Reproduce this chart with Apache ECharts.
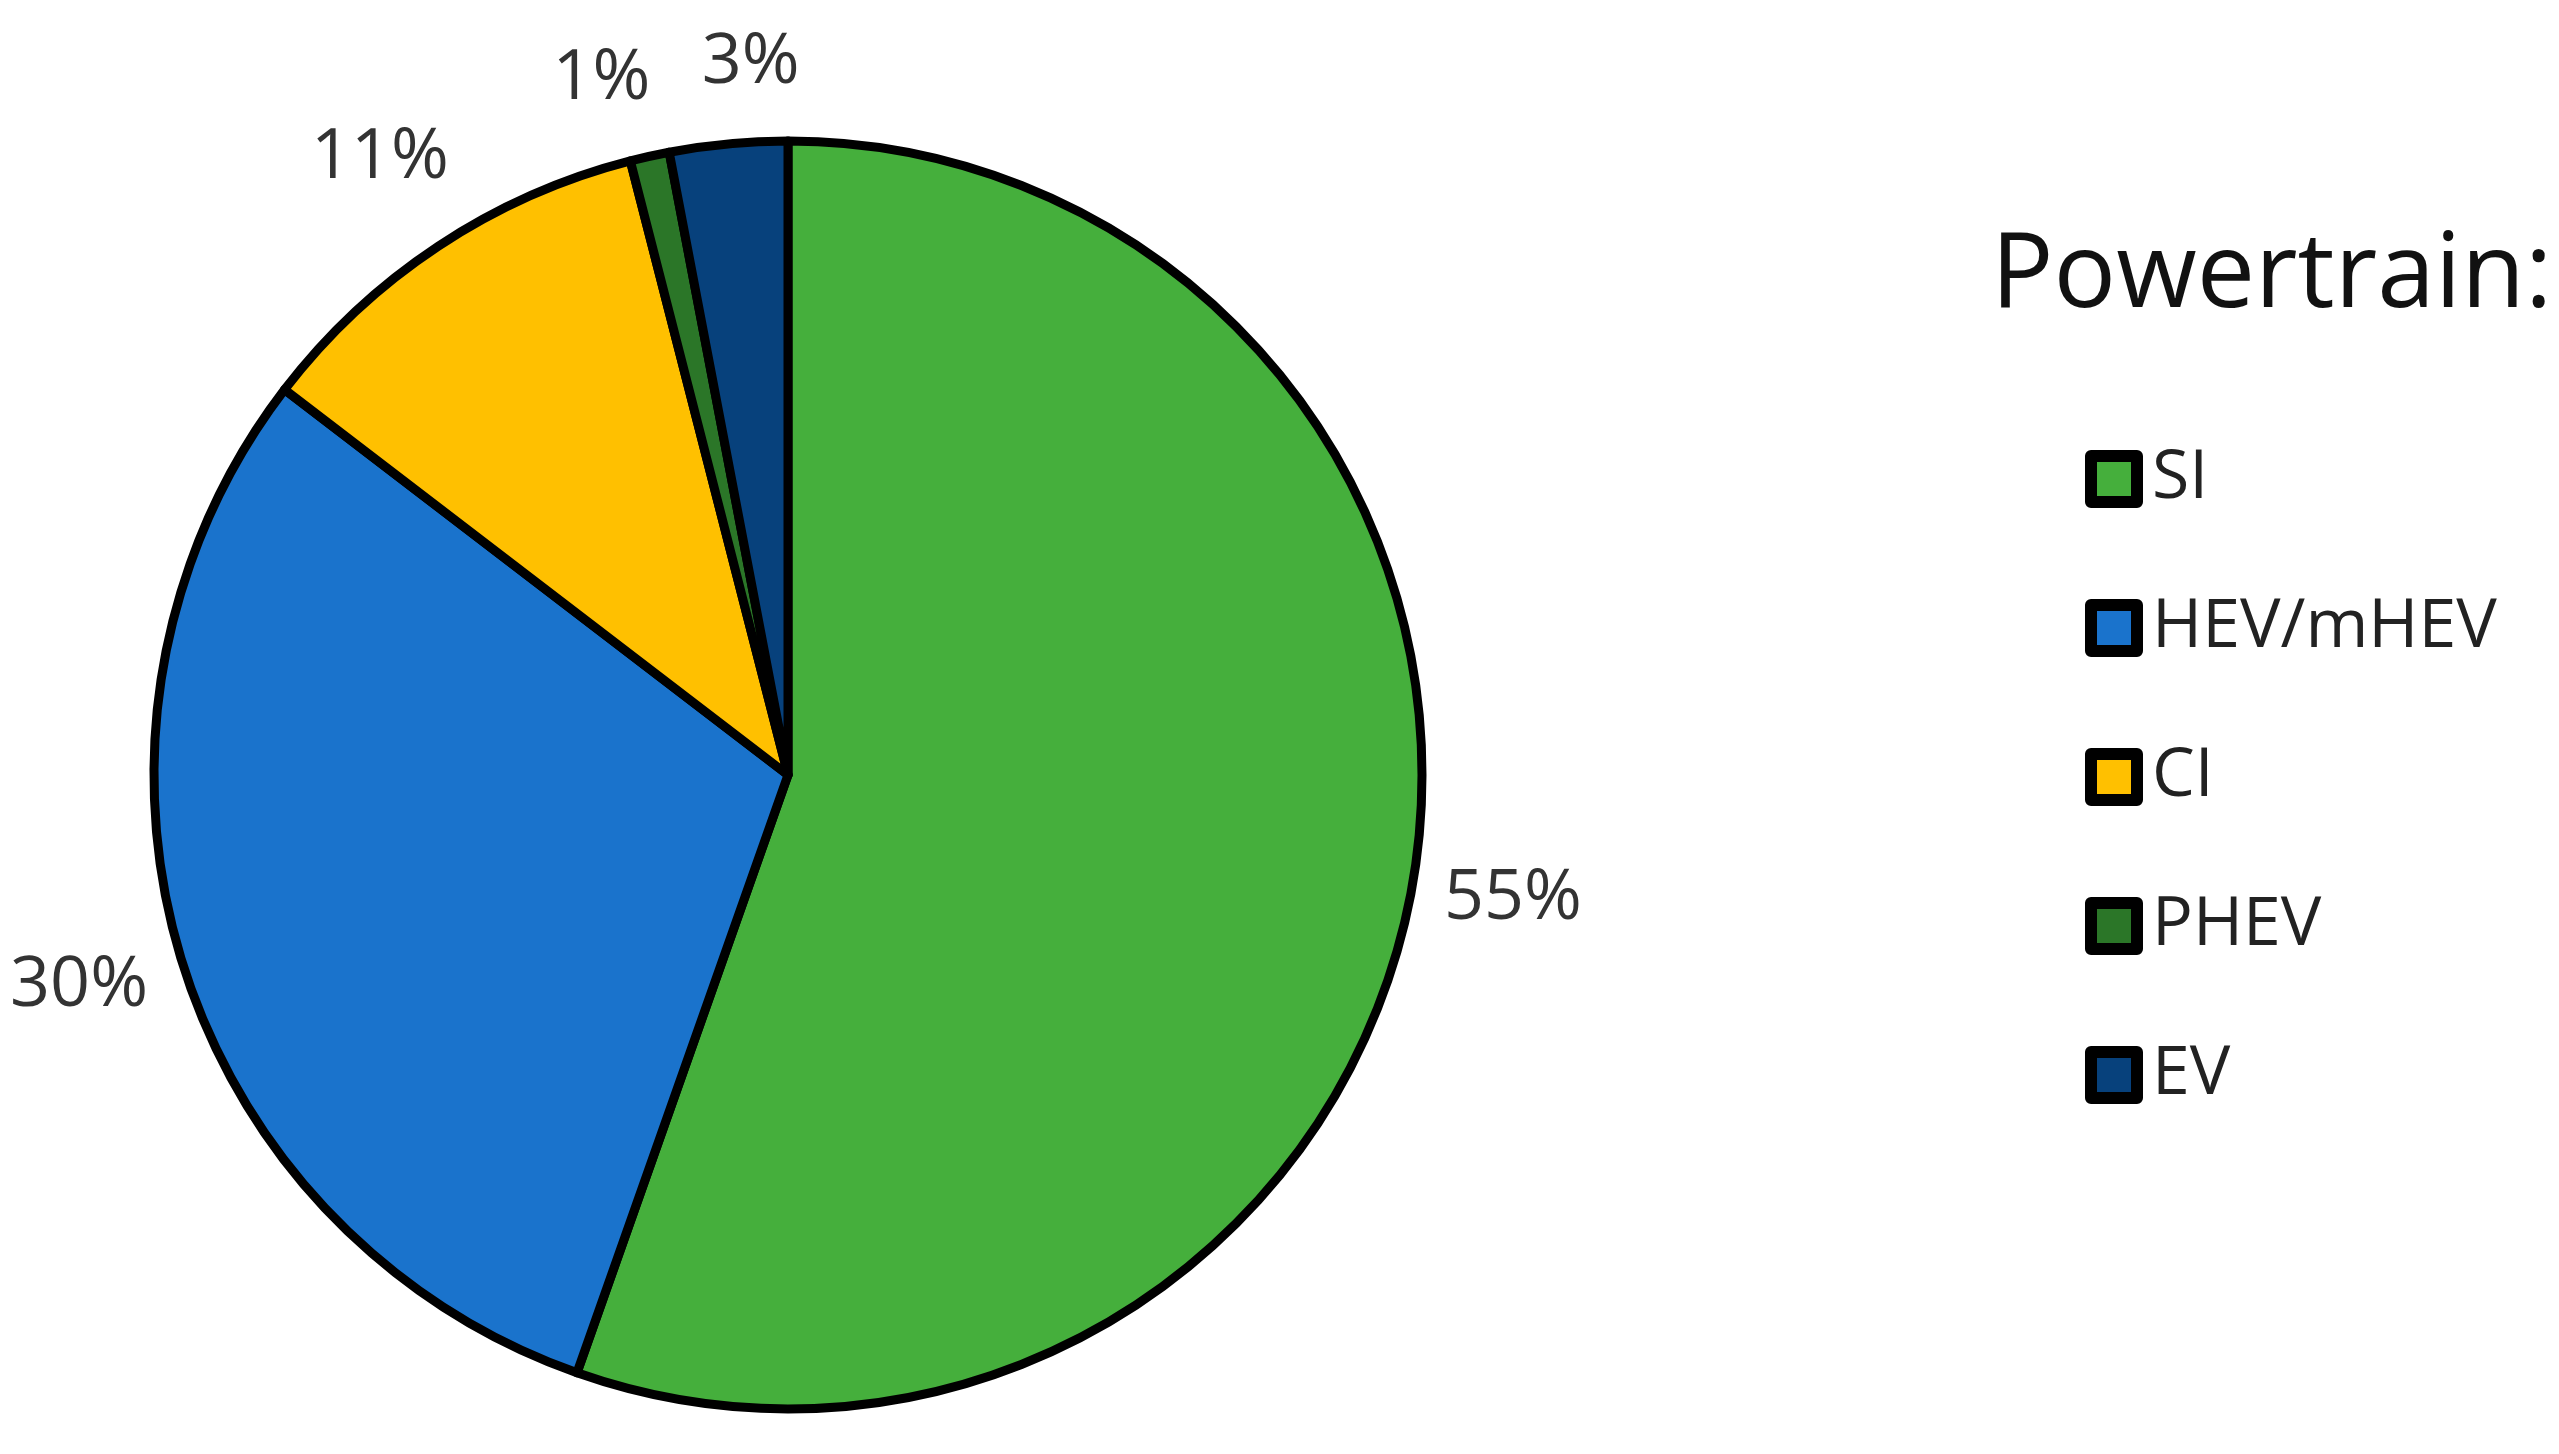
<!DOCTYPE html>
<html>
<head>
<meta charset="utf-8">
<script src="https://cdn.jsdelivr.net/npm/echarts@6/dist/echarts.min.js"></script>
<style>
  html, body { margin: 0; padding: 0; background: #fff; }
  #main { width: 2559px; height: 1454px; }
</style>
</head>
<body>
<div id="main"></div>
<script>
  // data
  var categories = ['SI', 'HEV/mHEV', 'CI', 'PHEV', 'EV'];
  var shares = [55.4, 30.0, 10.6, 1.0, 3.0];
  var colors = ['#45AF3C', '#1A73CC', '#FFC000', '#2B7628', '#07417C'];

  var cx = 788, cy = 775, R = 634;
  var total = shares.reduce(function (a, b) { return a + b; }, 0);

  // label angles: slice mid angles, pushed apart when two sit too close
  var labelAngles = [];
  var acc = 0;
  shares.forEach(function (v) {
    labelAngles.push((acc + v / 2) / total * 360);
    acc += v;
  });
  var minGap = 12;
  for (var k = 1; k < labelAngles.length; k++) {
    var gap = labelAngles[k] - labelAngles[k - 1];
    if (gap < minGap) {
      labelAngles[k - 1] -= (minGap - gap) / 2;
      labelAngles[k] += (minGap - gap) / 2;
    }
  }

  var myChart = echarts.init(document.getElementById('main'));

  var option = {
    backgroundColor: '#fff',
    animation: false,
    title: {
      text: 'Powertrain:',
      left: 1986,
      top: 220,
      textStyle: {
        fontFamily: 'Open Sans',
        fontSize: 104,
        fontWeight: 'normal',
        color: '#111'
      }
    },
    legend: {
      orient: 'vertical',
      left: 2080,
      top: 440,
      itemWidth: 46,
      itemHeight: 46,
      itemGap: 81,
      icon: 'rect',
      data: categories,
      itemStyle: { borderColor: '#000', borderWidth: 12 },
      textStyle: {
        fontFamily: 'Open Sans',
        fontSize: 68,
        color: '#222',
        padding: [0, 0, 0, 10]
      }
    },
    series: [{
      name: 'Powertrain',
      type: 'pie',
      center: [cx, cy],
      radius: R,
      startAngle: 90,
      clockwise: true,
      data: categories.map(function (c, i) {
        return { name: c, value: shares[i], itemStyle: { color: colors[i] } };
      }),
      itemStyle: { borderColor: '#000', borderWidth: 9 },
      label: {
        show: true,
        position: 'outside',
        overflow: 'none',
        fontFamily: 'Open Sans',
        fontSize: 70,
        color: '#333',
        formatter: function (p) { return Math.round(p.percent) + '%'; }
      },
      labelLine: { show: false },
      labelLayout: function (p) {
        var a = labelAngles[p.dataIndex] * Math.PI / 180;
        var sx = Math.sin(a), sy = -Math.cos(a);
        var w = p.labelRect.width, h = p.labelRect.height;
        var d = R + 25 + Math.abs(sx) * w / 2 + Math.abs(sy) * (h / 2 + 16);
        return {
          x: cx + sx * d,
          y: cy + sy * d,
          align: 'center',
          verticalAlign: 'middle'
        };
      },
      emphasis: { disabled: true }
    }]
  };

  myChart.setOption(option);
</script>
</body>
</html>
